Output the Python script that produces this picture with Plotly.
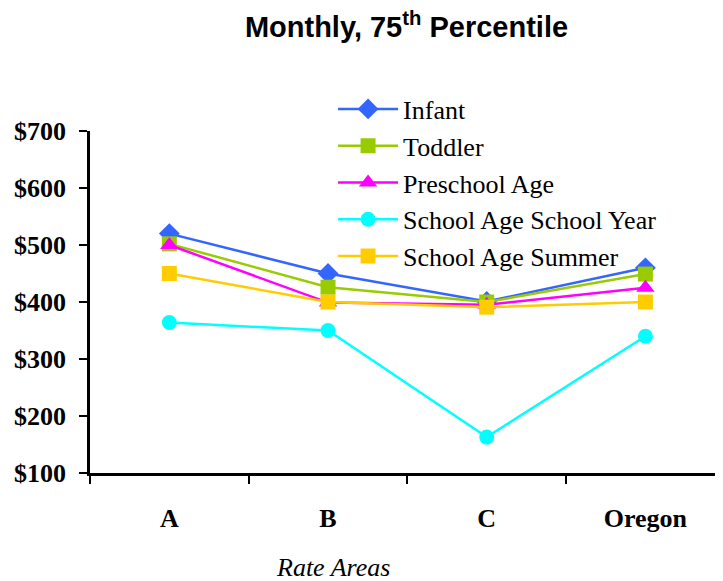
import plotly.graph_objects as go

categories = ["A", "B", "C", "Oregon"]
infant = [520, 450, 401, 460]
toddler = [502, 426, 400, 449]
preschool = [500, 399, 395, 425]
school_year = [364, 350, 163, 340]
school_summer = [450, 400, 391, 400]

series = [
    ("Infant", infant, "#3366FF", "diamond", 16),
    ("Toddler", toddler, "#99CC00", "square", 15),
    ("Preschool Age", preschool, "#FF00FF", "triangle-up", 16),
    ("School Age School Year", school_year, "#00FFFF", "circle", 15),
    ("School Age Summer", school_summer, "#FFCC00", "square", 15),
]

fig = go.Figure()
for name, vals, color, sym, sz in series:
    fig.add_trace(go.Scatter(
        x=categories, y=vals, name=name, mode="lines+markers",
        line=dict(color=color, width=2.5),
        marker=dict(symbol=sym, size=sz, color=color),
    ))

serif = "Liberation Serif, Times New Roman, serif"
W, H = 715, 573
fig.update_layout(
    width=W, height=H,
    margin=dict(l=82, r=0, t=123, b=108),
    paper_bgcolor="white", plot_bgcolor="white",
    title=dict(text="<b>Monthly, 75<sup>th</sup> Percentile</b>",
               x=0.5, xref="paper", xanchor="center",
               y=1 - 19 / H, yref="container", yanchor="middle",
               font=dict(family="Liberation Sans, Arial, sans-serif", size=29, color="black")),
    showlegend=True,
    legend=dict(x=0.384, y=1.133, xanchor="left", yanchor="top",
                bgcolor="rgba(0,0,0,0)", font=dict(family=serif, size=26, color="black"),
                tracegroupgap=0, itemwidth=60),
    xaxis=dict(type="category", range=[-0.5, 3.489], showgrid=False,
               showline=True, linecolor="black", linewidth=2.5,
               ticks="outside", tickson="boundaries", ticklen=8, tickwidth=2, tickcolor="black",
               tickfont=dict(family=serif, size=26, color="black"), ticklabelstandoff=20,
               tickprefix="<b>", ticksuffix="</b>", zeroline=False),
    yaxis=dict(range=[100, 700], dtick=100, tickprefix="<b>$", ticksuffix="</b>",
               showgrid=False, showline=True, linecolor="black", linewidth=2.5,
               ticks="outside", ticklen=8, tickwidth=2, tickcolor="black", ticklabelstandoff=8,
               tickfont=dict(family=serif, size=26, color="black"), zeroline=False),
    annotations=[dict(text="<i>Rate Areas</i>", x=0.384, y=-0.275, xref="paper", yref="paper",
                      xanchor="center", yanchor="middle", showarrow=False,
                      font=dict(family=serif, size=26, color="black"))],
)

fig.write_html("out.html")
